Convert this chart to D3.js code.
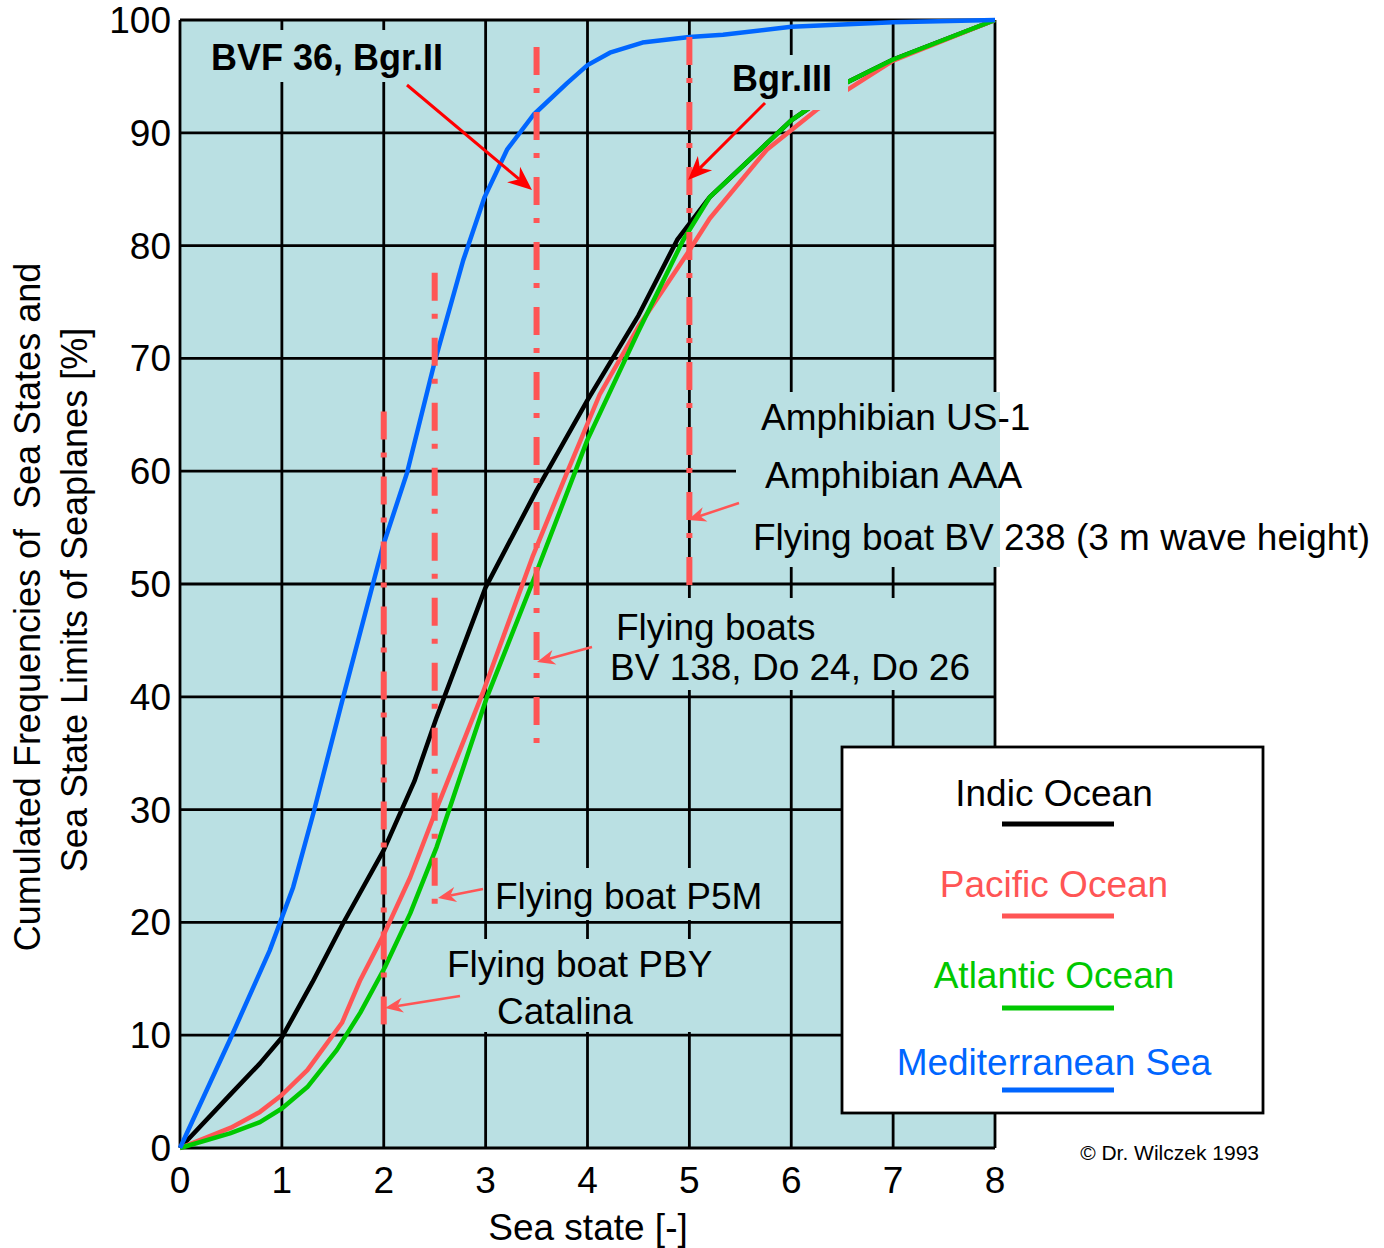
<!DOCTYPE html>
<html>
<head>
<meta charset="utf-8">
<script src="https://cdn.jsdelivr.net/npm/d3@7"></script>
<style>
  body { margin: 0; background: #fff; }
  svg { display: block; font-family: "Liberation Sans", Arial, sans-serif; }
</style>
</head>
<body>
<svg id="chart" width="1384" height="1248"></svg>
<script>
// Cumulated frequencies [%] over sea state
const indicOcean = [[0,0],[0.5,4.8],[0.785,7.5],[1,9.8],[1.3,14.7],[1.6,19.9],[2,26.4],[2.3,32.5],[2.52,38.2],[3,49.7],[3.5,58.3],[4,66.3],[4.5,73.8],[4.88,80.5],[5.2,84.3],[6,91.1],[6.53,94.4],[7,96.5],[8,100]];
const pacificOcean = [[0,0],[0.5,1.8],[0.785,3.2],[1,4.7],[1.25,6.9],[1.59,11.1],[1.77,14.9],[2.01,19.1],[2.26,24],[2.52,30.1],[2.97,40.3],[3.46,52.4],[3.8,59.9],[4.12,66.8],[4.5,72.8],[4.98,79.3],[5.2,82.4],[5.76,88.5],[6.26,92.1],[6.53,93.7],[7,96.4],[8,100]];
const atlanticOcean = [[0,0],[0.49,1.3],[0.785,2.3],[1,3.5],[1.25,5.4],[1.54,8.7],[1.77,12],[2.01,16],[2.26,20.8],[2.52,26.7],[3.01,39.9],[3.48,50.6],[4,62.8],[4.5,72.4],[4.94,80.5],[5.2,84.3],[6,91.1],[6.53,94.4],[7,96.5],[8,100]];
const mediterraneanSea = [[0,0],[0.49,9.6],[0.88,17.5],[1.11,23.1],[1.31,29.7],[1.6,39.9],[1.99,53.3],[2.23,59.9],[2.5,69.7],[2.78,78.7],[2.99,84.3],[3.21,88.5],[3.47,91.6],[3.8,94.4],[4,96],[4.22,97.1],[4.54,98],[5,98.5],[5.33,98.7],[6,99.4],[7,99.8],[8,100]];

const seriesNames = ['Indic Ocean', 'Pacific Ocean', 'Atlantic Ocean', 'Mediterranean Sea'];
const seriesData = [indicOcean, pacificOcean, atlanticOcean, mediterraneanSea];
const seriesColors = ['#000000', '#ff5555', '#00c800', '#0066ff'];

const xTicks = [0, 1, 2, 3, 4, 5, 6, 7, 8];
const yTicks = [0, 10, 20, 30, 40, 50, 60, 70, 80, 90, 100];

// sea state limits of seaplanes: [sea state, top %, bottom %]
const limitLines = [[2, 65.3, 10.3], [2.5, 77.6, 20.6], [3.5, 97.6, 35.1], [5, 98.5, 49]];

const bg = '#bae0e3';
const limitColor = '#ff5555';
const fs = 37;

const svg = d3.select('#chart');
const x = d3.scaleLinear().domain([0, 8]).range([180, 995]);
const y = d3.scaleLinear().domain([0, 100]).range([1148, 20]);

// plot background
svg.append('rect')
    .attr('x', x(0)).attr('y', y(100))
    .attr('width', x(8) - x(0)).attr('height', y(0) - y(100))
    .attr('fill', bg);

// grid
const grid = svg.append('g').attr('stroke', '#000').attr('stroke-width', 2.8);
grid.selectAll('.vgrid').data(xTicks).enter().append('line')
    .attr('x1', d => x(d)).attr('x2', d => x(d))
    .attr('y1', y(0)).attr('y2', y(100));
grid.selectAll('.hgrid').data(yTicks).enter().append('line')
    .attr('x1', x(0)).attr('x2', x(8))
    .attr('y1', d => y(d)).attr('y2', d => y(d));

// curves
const line = d3.line().x(d => x(d[0])).y(d => y(d[1]));
svg.append('g').selectAll('path').data(seriesData).enter().append('path')
    .attr('d', line)
    .attr('fill', 'none')
    .attr('stroke', (d, i) => seriesColors[i])
    .attr('stroke-width', 4.5)
    .attr('stroke-linejoin', 'round');

// label boxes hiding grid behind the texts
const boxes = [
    [200, 30, 262, 52],
    [725, 55, 123, 55],
    [736, 392, 264, 175],
    [600, 598, 390, 92],
    [487, 868, 283, 52],
    [440, 939, 260, 93]
];
svg.append('g').selectAll('rect').data(boxes).enter().append('rect')
    .attr('x', d => d[0]).attr('y', d => d[1])
    .attr('width', d => d[2]).attr('height', d => d[3])
    .attr('fill', bg);

// limit lines (dash-dot)
svg.append('g').selectAll('line').data(limitLines).enter().append('line')
    .attr('x1', d => x(d[0])).attr('x2', d => x(d[0]))
    .attr('y1', d => y(d[1])).attr('y2', d => y(d[2]))
    .attr('stroke', limitColor)
    .attr('stroke-width', 6)
    .attr('stroke-dasharray', '28,13,5,19');

// arrows
function arrow(x1, y1, x2, y2, color, w, len) {
    const a = Math.atan2(y2 - y1, x2 - x1);
    const g = svg.append('g');
    const bx = x2 - Math.cos(a) * len * 0.7, by = y2 - Math.sin(a) * len * 0.7;
    g.append('line')
        .attr('x1', x1).attr('y1', y1).attr('x2', bx).attr('y2', by)
        .attr('stroke', color).attr('stroke-width', w);
    const half = len * 0.42;
    const p = [
        [x2, y2],
        [x2 - Math.cos(a) * len - Math.sin(a) * half, y2 - Math.sin(a) * len + Math.cos(a) * half],
        [bx, by],
        [x2 - Math.cos(a) * len + Math.sin(a) * half, y2 - Math.sin(a) * len - Math.cos(a) * half]
    ];
    g.append('polygon').attr('points', p.map(q => q.join(',')).join(' ')).attr('fill', color);
}
arrow(407, 85, 532, 190, '#ff0000', 3, 24);
arrow(765, 103, 688, 180, '#ff0000', 3, 24);
arrow(739, 503, 688, 520, limitColor, 2.5, 18);
arrow(592, 647, 537, 662, limitColor, 2.5, 18);
arrow(483, 889, 438, 898, limitColor, 2.5, 18);
arrow(460, 996, 385, 1008, limitColor, 2.5, 18);

// annotation texts
const notes = [
    ['BVF 36, Bgr.II', 211, 70, 'bold'],
    ['Bgr.III', 732, 91, 'bold'],
    ['Amphibian US-1', 761, 430, 'normal'],
    ['Amphibian AAA', 765, 488, 'normal'],
    ['Flying boat BV 238 (3 m wave height)', 753, 550, 'normal'],
    ['Flying boats', 616, 640, 'normal'],
    ['BV 138, Do 24, Do 26', 610, 680, 'normal'],
    ['Flying boat P5M', 495, 909, 'normal'],
    ['Flying boat PBY', 447, 977, 'normal'],
    ['Catalina', 497, 1024, 'normal']
];
svg.append('g').selectAll('text').data(notes).enter().append('text')
    .attr('x', d => d[1]).attr('y', d => d[2])
    .attr('font-size', d => d[3] === 'bold' ? 36 : fs)
    .attr('font-weight', d => d[3])
    .attr('fill', '#000')
    .text(d => d[0]);

// tick labels
svg.append('g').selectAll('text').data(xTicks).enter().append('text')
    .attr('x', d => x(d)).attr('y', 1193)
    .attr('text-anchor', 'middle')
    .attr('font-size', fs)
    .text(d => d);
svg.append('g').selectAll('text').data(yTicks).enter().append('text')
    .attr('x', 171).attr('y', d => y(d) + 13)
    .attr('text-anchor', 'end')
    .attr('font-size', fs)
    .text(d => d);

// axis titles
svg.append('text')
    .attr('x', 588).attr('y', 1240)
    .attr('text-anchor', 'middle')
    .attr('font-size', fs)
    .text('Sea state [-]');
svg.append('text')
    .attr('transform', 'translate(40,607) rotate(-90)')
    .attr('text-anchor', 'middle')
    .attr('font-size', 36)
    .style('white-space', 'pre')
    .text('Cumulated Frequencies of  Sea States and');
svg.append('text')
    .attr('transform', 'translate(87,600) rotate(-90)')
    .attr('text-anchor', 'middle')
    .attr('font-size', 36)
    .text('Sea State Limits of Seaplanes [%]');

// legend
const legend = svg.append('g');
legend.append('rect')
    .attr('x', 842).attr('y', 747)
    .attr('width', 421).attr('height', 366)
    .attr('fill', '#fff').attr('stroke', '#000').attr('stroke-width', 2.8);
const legendBase = [806, 897, 988, 1075];
const legendLineY = [824, 916, 1008, 1090];
seriesNames.forEach((name, i) => {
    legend.append('text')
        .attr('x', 1054).attr('y', legendBase[i])
        .attr('text-anchor', 'middle')
        .attr('font-size', fs)
        .attr('fill', seriesColors[i])
        .text(name);
    legend.append('line')
        .attr('x1', 1002).attr('x2', 1114)
        .attr('y1', legendLineY[i]).attr('y2', legendLineY[i])
        .attr('stroke', seriesColors[i]).attr('stroke-width', 5);
});

svg.append('text')
    .attr('x', 1259).attr('y', 1160)
    .attr('text-anchor', 'end')
    .attr('font-size', 21)
    .text('© Dr. Wilczek 1993');
</script>
</body>
</html>
